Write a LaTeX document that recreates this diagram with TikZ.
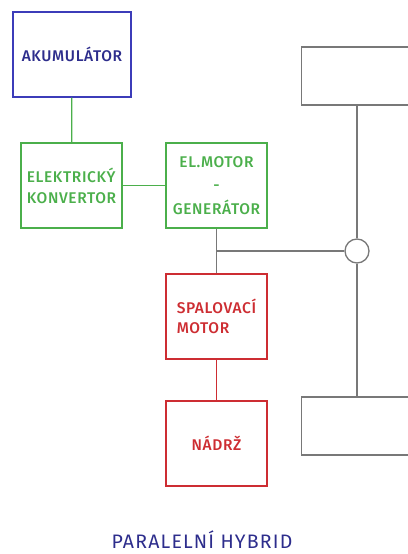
\documentclass[tikz,border=0pt]{standalone}
\usepackage{fontspec}
\setmainfont{Fira Sans}[UprightFont={* Medium}]
\newfontfamily\nazevfont{Fira Sans}[LetterSpace=6]
\definecolor{akublue}{RGB}{60,60,185}
\definecolor{nazevblue}{RGB}{45,45,140}
\definecolor{elgreen}{RGB}{75,175,75}
\definecolor{spalred}{RGB}{205,45,50}
\definecolor{hwgray}{RGB}{120,120,120}
\begin{document}
\begin{tikzpicture}[x=1pt,y=-1pt,line width=1.3pt,
    blok/.style={draw, inner sep=0pt, minimum width=101pt, minimum height=85pt, font=\fontsize{15.5}{21}\selectfont\addfontfeature{LetterSpace=4}},
    kolo/.style={draw=hwgray, fill=white, inner sep=0pt, minimum width=119pt, minimum height=58pt}]
    \useasboundingbox (0,0) rectangle (407,554);

    % elektricka cast
    \node[blok, draw=akublue, text=nazevblue, minimum width=118pt] (aku) at (72,54.5) {AKUMULÁTOR};
    \node[blok, elgreen, align=left] (konv) at (71.5,185.5) {ELEKTRICKÝ\\KONVERTOR};
    \node[blok, elgreen, align=center, font=\fontsize{15.5}{23.5}\selectfont\addfontfeature{LetterSpace=4}] (elmot) at (216.5,185.5) {EL.MOTOR\\-\\GENERÁTOR};
    \draw[elgreen] (aku) -- (konv);
    \draw[elgreen] (konv) -- (elmot);

    % spalovaci cast
    \node[blok, spalred, align=left, font=\fontsize{15.5}{20}\selectfont\addfontfeature{LetterSpace=4}] (spal) at (216.5,316.5) {SPALOVACÍ\\MOTOR};
    \node[blok, spalred] (nadrz) at (216.5,443.5) {\raisebox{-5pt}{NÁDRŽ}};
    \draw[spalred] (spal) -- (nadrz);

    % naprava a spojka
    \node[kolo] (predni) at (361,76) {};
    \node[kolo] (zadni) at (361,426) {};
    \node[draw=hwgray, circle, minimum size=24pt, inner sep=0pt] (spojka) at (357,251) {};
    \coordinate (uzel) at (216.5,251);
    \draw[hwgray] (predni.south -| spojka) -- (spojka.north);
    \draw[hwgray] (spojka.south) -- (zadni.north -| spojka);
    \draw[hwgray] (elmot) -- (spal);
    \draw[hwgray] (uzel) -- (spojka.west);

    \node[nazevblue, font=\nazevfont\fontsize{19.5}{20}\selectfont] (nazev) at (202,540) {PARALELNÍ HYBRID};
\end{tikzpicture}
\end{document}
